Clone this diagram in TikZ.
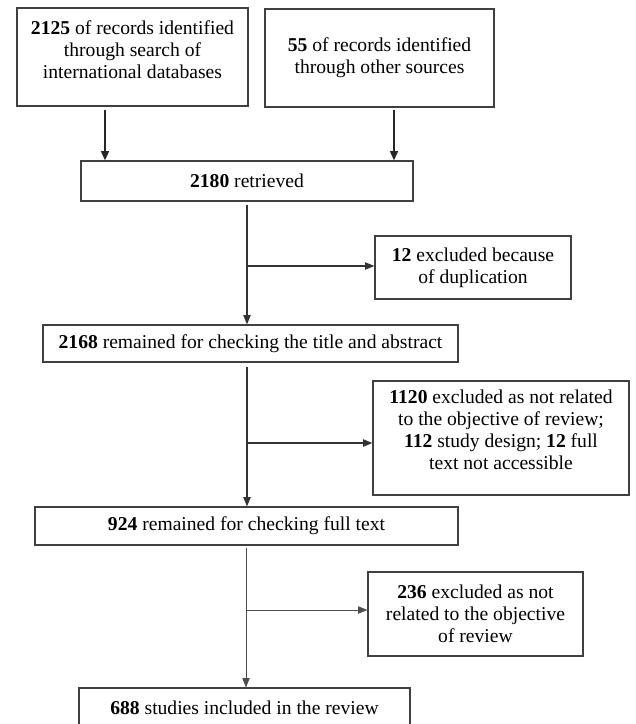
\documentclass[tikz,border=0pt]{standalone}
\usepackage{fontspec}
\setmainfont{Liberation Serif}
\usetikzlibrary{arrows.meta}
\begin{document}
\begin{tikzpicture}[x=0.75pt,y=-0.75pt,
  box/.style={draw=black!75, line width=0.9pt, inner sep=0pt, fill=white},
  txt/.style={align=center, inner sep=0pt, font=\fontsize{14.7}{16.6}\selectfont},
  arrthick/.style={line width=1.2pt, draw=black!85, -{Triangle[length=7pt,width=6pt]}},
  arrmid/.style={line width=0.9pt, draw=black!80, -{Triangle[length=7pt,width=5.5pt]}},
  arrthin/.style={line width=0.6pt, draw=black!70, -{Triangle[length=7pt,width=5.5pt]}}]
\useasboundingbox (0,0) rectangle (635,724);
% boxes
\node[box, minimum width=231*0.75pt, minimum height=98*0.75pt] (b1) at (132.5,57) {};
\node[txt] (b1t) at (132.5,50) {\textbf{2125} of records identified\\through search of\\international databases};
\node[box, minimum width=229*0.75pt, minimum height=98*0.75pt, txt] (b2) at (379.5,58) {\textbf{55} of records identified\\through other sources};
\node[box, minimum width=332*0.75pt, minimum height=40*0.75pt, txt] (b3) at (247,181) {\textbf{2180} retrieved};
\node[box, minimum width=196*0.75pt, minimum height=63*0.75pt, txt] (b4) at (473,267.5) {\textbf{12} excluded because\\of duplication};
\node[box, minimum width=415*0.75pt, minimum height=37*0.75pt, txt] (b5) at (250.5,343.5) {\textbf{2168} remained for checking the title and abstract};
\node[box, minimum width=256*0.75pt, minimum height=114*0.75pt] (b6) at (501,438) {};
\node[txt] (b6t) at (501,430) {\textbf{1120} excluded as not related\\to the objective of review;\\\textbf{112} study design; \textbf{12} full\\text not accessible};
\node[box, minimum width=423*0.75pt, minimum height=38*0.75pt, txt] (b7) at (246.5,526) {\textbf{924} remained for checking full text};
\node[box, minimum width=215*0.75pt, minimum height=84*0.75pt, txt] (b8) at (475.5,614) {\textbf{236} excluded as not\\related to the objective\\of review};
\node[box, minimum width=331*0.75pt, minimum height=39*0.75pt, txt] (b9) at (244.5,707.5) {\textbf{688} studies included in the review};
% connectors
\coordinate (a1) at (105,110);
\coordinate (a2) at (394,110);
\draw[arrthick] (a1) -- (a1 |- b3.north);
\draw[arrthick] (a2) -- (a2 |- b3.north);
\coordinate (s1) at (247,205);
\coordinate (j1) at (247,266);
\draw[arrmid] (s1) -- (s1 |- b5.north);
\draw[arrmid] (j1) -- (j1 -| b4.west);
\coordinate (s2) at (247,367);
\coordinate (j2) at (247,443);
\draw[arrmid] (s2) -- (s2 |- b7.north);
\draw[arrmid] (j2) -- (j2 -| b6.west);
\coordinate (s3) at (246,548);
\coordinate (j3) at (246,610);
\draw[arrthin] (s3) -- (s3 |- b9.north);
\draw[arrthin] (j3) -- (j3 -| b8.west);
\end{tikzpicture}
\end{document}
